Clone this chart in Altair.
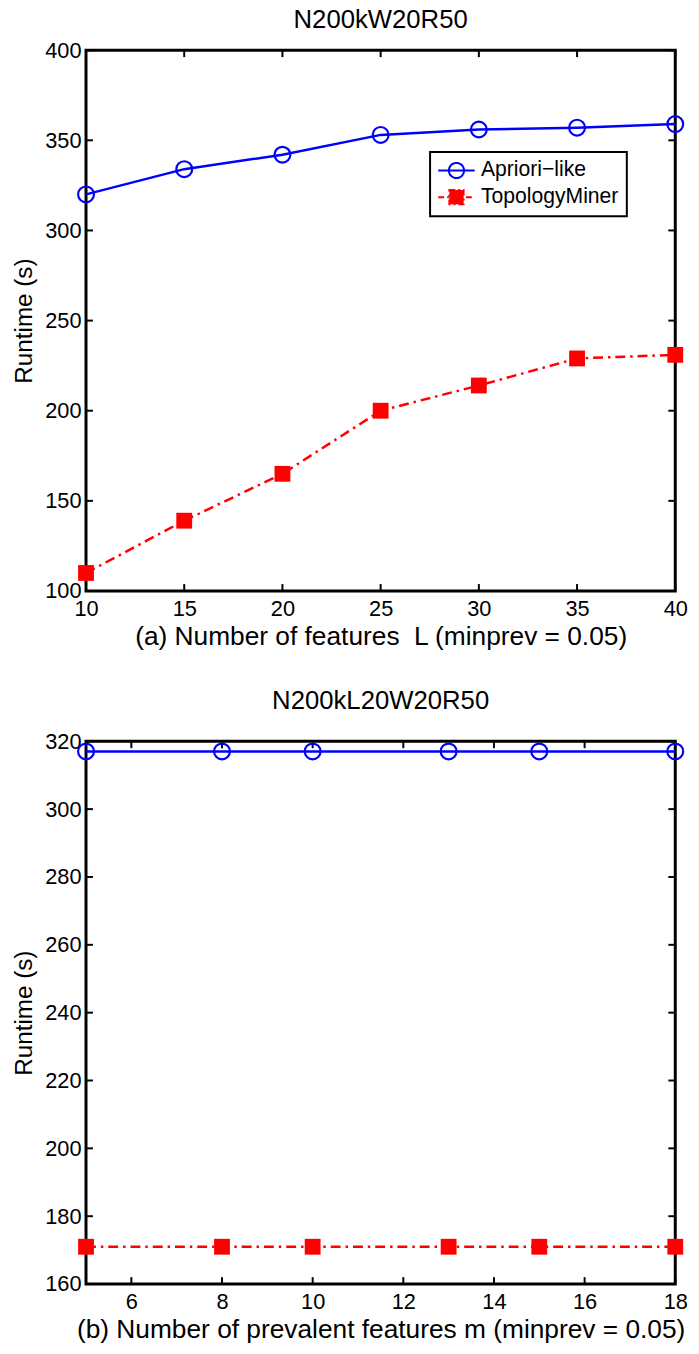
import altair as alt
import pandas as pd

# ---------------- data ----------------
series_names = ["Apriori−like", "TopologyMiner"]

# panel (a): Number of features L
a_L = [10, 15, 20, 25, 30, 35, 40]
a_apriori = [320, 334, 342, 353, 356, 357, 359]
a_topology = [110, 139, 165, 200, 214, 229, 231]
a_xticks = [10, 15, 20, 25, 30, 35, 40]
a_yticks = [100, 150, 200, 250, 300, 350, 400]

# panel (b): Number of prevalent features m
b_m = [5, 8, 10, 13, 15, 18]
b_apriori = [317, 317, 317, 317, 317, 317]
b_topology = [171, 171, 171, 171, 171, 171]
b_xticks = [6, 8, 10, 12, 14, 16, 18]
b_yticks = [160, 180, 200, 220, 240, 260, 280, 300, 320]

# ---------------- style ----------------
W = 596
FONT = "Liberation Sans"
BLUE = "#0000ff"
RED = "#ff0000"
TICK = 7
LEG_CIRCLE = "M-2.05,0L2.05,0M0.85,0A0.85,0.85,0,1,1,-0.85,0A0.85,0.85,0,1,1,0.85,0"
LEG_SQUARE = "M-2.05,0L2.05,0M-0.8,-0.8L0.8,-0.8L0.8,0.8L-0.8,0.8Z"


def panel(xs, ap, tp, xdom, ydom, xticks, yticks, title, xtitle, legx, legy,
          H, title_offset):
    n = len(xs)
    df = pd.DataFrame({
        "x": list(xs) + list(xs),
        "y": list(ap) + list(tp),
        "k": [0] * n + [1] * n,
        "series": [series_names[0]] * n + [series_names[1]] * n,
    })
    xsc = alt.Scale(domain=xdom, nice=False, zero=False)
    ysc = alt.Scale(domain=ydom, nice=False, zero=False)
    X = alt.X("x:Q", scale=xsc, axis=alt.Axis(values=xticks, title=xtitle))
    Y = alt.Y("y:Q", scale=ysc, axis=alt.Axis(values=yticks, title="Runtime (s)"))
    base = alt.Chart(df)

    ap_line = base.transform_filter(alt.datum.k == 0).mark_line(
        color=BLUE, strokeWidth=2.5).encode(x=X, y=Y)
    tp_line = base.transform_filter(alt.datum.k == 1).mark_line(
        color=RED, strokeWidth=2.5, strokeDash=[10, 5, 2.5, 5]).encode(x=X, y=Y)
    ap_pts = base.transform_filter(alt.datum.k == 0).mark_point(
        shape="circle", filled=False, color=BLUE, strokeWidth=2.2, size=256,
        opacity=1).encode(x=X, y=Y)
    tp_pts = base.transform_filter(alt.datum.k == 1).mark_point(
        shape="square", filled=True, color=RED, size=256, opacity=1,
        strokeWidth=0).encode(x=X, y=Y)

    leg = alt.Legend(title=None, orient="none", legendX=legx, legendY=legy)
    legend_layer = base.transform_filter(alt.datum.k > 5).mark_point(
        opacity=1, strokeWidth=2).encode(
        x=X, y=Y,
        shape=alt.Shape("series:N", scale=alt.Scale(domain=series_names,
                        range=[LEG_CIRCLE, LEG_SQUARE]), legend=leg),
        stroke=alt.Stroke("series:N", scale=alt.Scale(domain=series_names,
                          range=[BLUE, RED]), legend=leg),
        fill=alt.Fill("series:N", scale=alt.Scale(domain=series_names,
                      range=["transparent", RED]), legend=leg),
        strokeDash=alt.StrokeDash("series:N", scale=alt.Scale(domain=series_names,
                                  range=[[1, 0], [6, 3, 2, 3]]), legend=leg),
    )

    xt = pd.DataFrame({"v": xticks})
    yt = pd.DataFrame({"v": yticks})
    xv = alt.X("v:Q", scale=xsc)
    yv = alt.Y("v:Q", scale=ysc)
    tick_bottom = alt.Chart(xt).mark_rule(color="black", strokeWidth=2).encode(
        x=xv, y=alt.value(H), y2=alt.value(H - TICK))
    tick_top = alt.Chart(xt).mark_rule(color="black", strokeWidth=2).encode(
        x=xv, y=alt.value(0), y2=alt.value(TICK))
    tick_left = alt.Chart(yt).mark_rule(color="black", strokeWidth=2).encode(
        y=yv, x=alt.value(0), x2=alt.value(TICK))
    tick_right = alt.Chart(yt).mark_rule(color="black", strokeWidth=2).encode(
        y=yv, x=alt.value(W), x2=alt.value(W - TICK))

    return alt.layer(
        tick_bottom, tick_top, tick_left, tick_right,
        ap_line, tp_line, ap_pts, tp_pts, legend_layer,
    ).properties(
        width=W, height=H,
        title=alt.TitleParams(title, font=FONT, fontSize=26, fontWeight="normal",
                              color="black", offset=title_offset),
    )


top = panel(a_L, a_apriori, a_topology, [10, 40], [100, 400], a_xticks, a_yticks,
            "N200kW20R50", "(a) Number of features\u00a0 L (minprev = 0.05)",
            348, 103, 547, 6)
bottom = panel(b_m, b_apriori, b_topology, [5, 18], [160, 320], b_xticks, b_yticks,
               "N200kL20W20R50", "(b) Number of prevalent features m (minprev = 0.05)",
               348, 197, 549, 17)

chart = alt.vconcat(top, bottom, spacing=34).properties(
    padding={"left": 10, "top": -2, "right": 10, "bottom": 2},
    background="white",
).configure_view(
    stroke="black", strokeWidth=3,
).configure_axis(
    domain=False, ticks=False, grid=False,
    labelFont=FONT, labelFontSize=22, labelColor="black",
    labelFlush=False, labelOverlap=False,
    titleFont=FONT, titleFontSize=26.6, titleFontWeight="normal", titleColor="black",
).configure_axisX(
    labelPadding=8, titlePadding=4,
).configure_axisY(
    labelPadding=5, titlePadding=8, titleFontSize=24.5,
).configure_legend(
    strokeColor="black", strokeWidth=2, fillColor="white",
    padding=8, symbolOffset=8, labelOffset=14, rowPadding=3,
    symbolSize=324, symbolStrokeWidth=2,
    labelFont=FONT, labelFontSize=21.4, labelColor="black",
)

chart.save("out.html", embed_options={"renderer": "svg", "actions": False})
